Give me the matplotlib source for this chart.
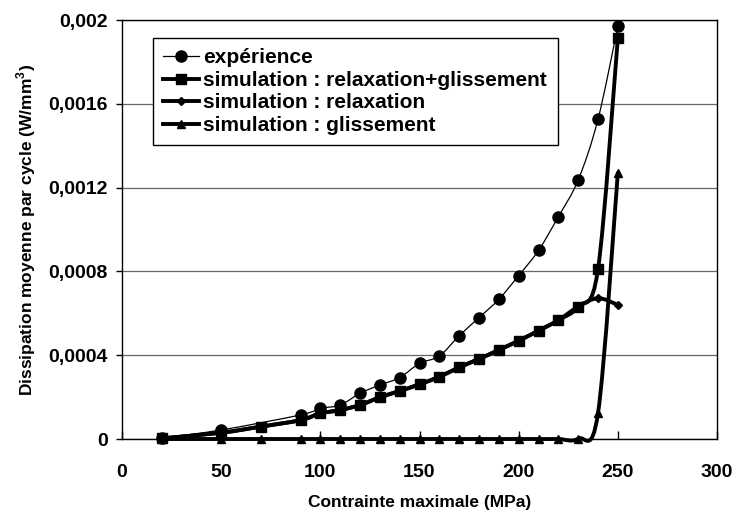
import numpy as np
import matplotlib
matplotlib.use("Agg")
import matplotlib.pyplot as plt
from matplotlib.path import Path
from matplotlib.patches import PathPatch
from matplotlib.lines import Line2D
from matplotlib.ticker import FixedLocator, FixedFormatter

# ---- data ----
x_exp = [20, 50, 90, 100, 110, 120, 130, 140, 150, 160, 170, 180, 190, 200, 210, 220, 230, 240, 250]
y_exp = [0.000005, 0.000043, 0.000115, 0.000146, 0.000162, 0.000218, 0.000258, 0.000293, 0.000361,
         0.000396, 0.000493, 0.000579, 0.000667, 0.00078, 0.0009, 0.001061, 0.001236, 0.001526, 0.00197]

x_sim = [20, 50, 70, 90, 100, 110, 120, 130, 140, 150, 160, 170, 180, 190, 200, 210, 220, 230, 240, 250]
y_relax_gliss = [0.000003, 0.00003, 0.000059, 0.00009, 0.000122, 0.000138, 0.000162, 0.000199, 0.000229,
                 0.000261, 0.000297, 0.000342, 0.000382, 0.000425, 0.000469, 0.000517, 0.000567,
                 0.000632, 0.00081, 0.001913]
y_relax = [0.000003, 0.00003, 0.000059, 0.00009, 0.000122, 0.000138, 0.000162, 0.000199, 0.000229,
           0.000261, 0.000297, 0.000342, 0.000382, 0.000425, 0.000469, 0.000517, 0.000567,
           0.000632, 0.000672, 0.00064]
y_gliss = [0, 0, 0, 0, 0, 0, 0, 0, 0, 0, 0, 0, 0, 0, 0, 0, 0, 0.000002, 0.000123, 0.00127]

labels = ["expérience", "simulation : relaxation+glissement", "simulation : relaxation",
          "simulation : glissement"]
x_ticks = [0, 50, 100, 150, 200, 250, 300]
x_ticklabels = ["0", "50", "100", "150", "200", "250", "300"]
y_ticks = [0, 0.0004, 0.0008, 0.0012, 0.0016, 0.002]
y_ticklabels = ["0", "0,0004", "0,0008", "0,0012", "0,0016", "0,002"]
x_title = "Contrainte maximale (MPa)"
y_title = "Dissipation moyenne par cycle (W/mm$^{\\mathbf{3}}$)"

plt.rcParams['font.family'] = ['Liberation Sans', 'DejaVu Sans']
plt.rcParams['font.weight'] = 'bold'
plt.rcParams['mathtext.fontset'] = 'custom'
plt.rcParams['mathtext.rm'] = 'Liberation Sans:bold'
plt.rcParams['mathtext.bf'] = 'Liberation Sans:bold'

W, H = 736, 517
fig = plt.figure(figsize=(W / 100, H / 100), dpi=100)
L, R, T, B = 122, 717, 20, 439
ax = fig.add_axes([L / W, 1 - B / H, (R - L) / W, (B - T) / H])


def smooth_path(x, y):
    pts = np.column_stack([x, y]).astype(float)
    n = len(pts)
    verts = [pts[0]]
    codes = [Path.MOVETO]
    for i in range(n - 1):
        p0 = pts[i - 1] if i > 0 else pts[i]
        p1 = pts[i]
        p2 = pts[i + 1]
        p3 = pts[i + 2] if i + 2 < n else pts[i + 1]
        c1 = p1 + (p2 - p0) / 6.0
        c2 = p2 - (p3 - p1) / 6.0
        verts += [c1, c2, p2]
        codes += [Path.CURVE4] * 3
    return Path(verts, codes)


series = [
    (x_exp, y_exp, 0.9, 'o', 8.0),
    (x_sim, y_relax_gliss, 2.8, 's', 7.5),
    (x_sim, y_relax, 2.8, 'D', 4.2),
    (x_sim, y_gliss, 2.8, '^', 5.2),
]
handles = []
for k, (xs, ys, lw, mk, ms) in enumerate(series):
    patch = PathPatch(smooth_path(xs, ys), facecolor='none', edgecolor='black', lw=lw,
                      transform=ax.transData, zorder=3 + k, clip_on=False, capstyle='round',
                      joinstyle='round')
    ax.add_patch(patch)
    ax.plot(xs, ys, ls='none', marker=mk, ms=ms, color='black', mec='black', zorder=3 + k,
            clip_on=False)
    handles.append(Line2D([], [], color='black', lw=lw, marker=mk, ms=ms))

ax.set_xlim(0, 300)
ax.set_ylim(0, 0.002)
ax.xaxis.set_major_locator(FixedLocator(x_ticks))
ax.xaxis.set_major_formatter(FixedFormatter(x_ticklabels))
ax.yaxis.set_major_locator(FixedLocator(y_ticks))
ax.yaxis.set_major_formatter(FixedFormatter(y_ticklabels))
ax.tick_params(axis='x', direction='in', length=6, width=1, pad=18, labelsize=14)
ax.tick_params(axis='y', direction='out', length=4, width=1, pad=6, labelsize=14)
for lab in ax.get_xticklabels() + ax.get_yticklabels():
    lab.set_fontweight('bold')
ax.grid(axis='y', color='#666666', lw=0.9)
ax.set_axisbelow(True)
for s in ax.spines.values():
    s.set_color('black')
    s.set_linewidth(1.0)

ax.set_xlabel(x_title, fontsize=12.5, fontweight='bold', va='center')
ax.xaxis.set_label_coords(0.5, (B - 503) / (B - T))
ax.set_ylabel(y_title, fontsize=12.5, fontweight='bold', va='center')
ax.yaxis.set_label_coords((26 - L) / (R - L), 0.5)

leg = ax.legend(handles, labels, loc='upper left', bbox_to_anchor=(153 / W, 1 - 38 / H),
                bbox_transform=fig.transFigure, borderaxespad=0, frameon=True, fancybox=False,
                edgecolor='black', framealpha=1, prop={'weight': 'bold', 'size': 15},
                handlelength=1.7, handletextpad=0.22, labelspacing=0.17, borderpad=0.5)
leg.get_frame().set_linewidth(1.0)
leg.set_zorder(20)

fig.savefig("out.png", dpi=100)
